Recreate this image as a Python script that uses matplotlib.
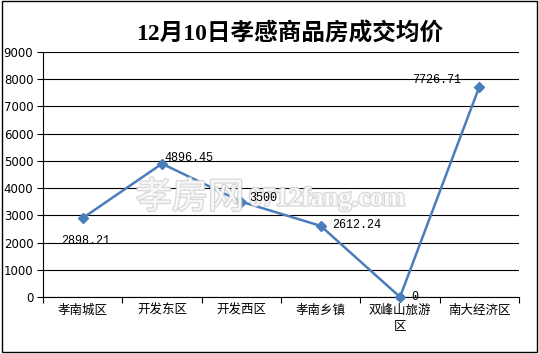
import matplotlib
matplotlib.use("Agg")
import matplotlib.pyplot as plt
import matplotlib.patheffects as pe
from matplotlib.patches import Rectangle

categories = ["孝南城区", "开发东区", "开发西区", "孝南乡镇", "双峰山旅游\n区", "南大经济区"]
values = [2898.21, 4896.45, 3500, 2612.24, 0, 7726.71]
value_labels = ["2898.21", "4896.45", "3500", "2612.24", "0", "7726.71"]
yticks = [0, 1000, 2000, 3000, 4000, 5000, 6000, 7000, 8000, 9000]
title = "12月10日孝感商品房成交均价"

plt.rcParams['font.family'] = ['DejaVu Sans', 'Noto Sans CJK SC']

fig = plt.figure(figsize=(5.39, 3.54), dpi=100)
fig.patch.set_facecolor("white")
fig.patches.append(Rectangle((0.003, 0.006), 0.993, 0.99, transform=fig.transFigure,
                             fill=False, edgecolor="black", linewidth=1.0))

ax = fig.add_axes([43/539, 1-297/354, (519-43)/539, (297-52)/354])
x = list(range(len(categories)))
line_color = "#4a7ebb"
ax.plot(x, values, color=line_color, linewidth=1.8, marker="D", markersize=5.5,
        markerfacecolor=line_color, markeredgecolor=line_color, zorder=3, clip_on=False)

ax.set_xlim(-0.5, len(categories) - 0.5)
ax.set_ylim(0, 9000)
ax.set_yticks(yticks)
ax.set_yticklabels([str(v) for v in yticks], fontsize=8.5)
ax.set_xticks(x)
ax.set_xticklabels(categories, fontsize=9, family=['Noto Sans CJK SC'], linespacing=1.3)
ax.set_xticks([i - 0.5 for i in range(len(categories) + 1)], minor=True)
ax.tick_params(axis='x', which='major', length=0, pad=5)
ax.tick_params(axis='x', which='minor', length=4, direction='out', width=0.8)
ax.tick_params(axis='y', length=4, direction='out', width=0.8, pad=3)
ax.yaxis.grid(True, color="black", linewidth=0.8)
ax.set_axisbelow(True)
for s in ["top", "right"]:
    ax.spines[s].set_visible(False)
for s in ["left", "bottom"]:
    ax.spines[s].set_linewidth(0.8)

offsets = [(3, -23, "center"), (2, 6, "left"), (8, 4, "left"), (12, 1, "left"),
           (11, 0, "left"), (-18, 7, "right")]
for xi, v, lab, (dx, dy, ha) in zip(x, values, value_labels, offsets):
    ax.annotate(lab, (xi, v), xytext=(dx, dy), textcoords="offset pixels",
                ha=ha, va="center", fontsize=8.5, family="Liberation Mono", zorder=6)

fig.text(0.538, 0.905, title, ha="center", va="center", fontsize=17, fontweight="bold",
         family=["Liberation Serif", "Noto Sans CJK SC"])

# watermark (above the line, below the value labels)
wm = [pe.withStroke(linewidth=1.8, foreground="#cfcfcf")]
ax.text(190/539, 1-198/354, "孝房网", ha="center", va="center", fontsize=26,
        color="white", alpha=0.8, family=["Noto Sans CJK SC"], path_effects=wm,
        transform=fig.transFigure, zorder=4)
ax.text(249/539, 1-199/354, "0712fang.com", ha="left", va="center", fontsize=19,
        color="white", alpha=0.8, family=["Liberation Serif"], fontweight="bold",
        path_effects=wm, transform=fig.transFigure, zorder=4)

fig.savefig("out.png", dpi=100)
